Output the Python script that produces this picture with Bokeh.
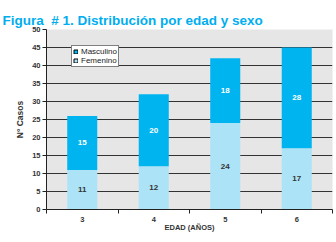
from bokeh.plotting import figure
from bokeh.models import Range1d, FixedTicker, ColumnDataSource, Legend, LegendItem
from bokeh.core.properties import value
from bokeh.embed import file_html
from bokeh.resources import INLINE

edades = ["3", "4", "5", "6"]
femenino = [11, 12, 24, 17]
masculino = [15, 20, 18, 28]
y_ticks = [0, 5, 10, 15, 20, 25, 30, 35, 40, 45, 50]

COL_M = "#00b4f0"
COL_F = "#ade3f7"

xs = [i + 0.5 for i in range(len(edades))]
tops = [f + m for f, m in zip(femenino, masculino)]
src = ColumnDataSource(dict(
    x=xs, fem=femenino, masc=masculino, top=tops,
    fem_mid=[f / 2 for f in femenino],
    masc_mid=[f + m / 2 for f, m in zip(femenino, masculino)],
    fem_txt=[str(v) for v in femenino],
    masc_txt=[str(v) for v in masculino],
))

FONT = "Liberation Sans"
p = figure(width=336, height=242, output_backend="svg", toolbar_location=None,
           x_range=Range1d(0, len(edades)), y_range=Range1d(0, 50),
           min_border_left=46, min_border_right=4, min_border_top=29, min_border_bottom=33)

p.title.text = "Figura\u00a0 # 1. Distribución por edad y sexo"
p.title.text_font = FONT
p.title.text_font_size = "13.5px"
p.title.text_font_style = "bold"
p.title.text_color = "#00aeef"
p.title.offset = -44
p.title.standoff = 0
p.title.vertical_align = "top"

p.background_fill_color = "#e6e6e6"
p.border_fill_color = "white"
p.outline_line_color = None

p.vbar(x="x", bottom=0, top="fem", width=0.42, source=src,
       fill_color=COL_F, line_color=None)
p.vbar(x="x", bottom="fem", top="top", width=0.42, source=src,
       fill_color=COL_M, line_color=None)

# legend swatches: hidden renderers, used only for the outlined legend glyphs
lg_m = p.vbar(x=xs[:1], top=femenino[:1], width=0.42, fill_color=COL_M,
              line_color="black", line_width=1, visible=False)
lg_f = p.vbar(x=xs[:1], top=femenino[:1], width=0.42, fill_color=COL_F,
              line_color="black", line_width=1, visible=False)

p.text(x="x", y="masc_mid", text="masc_txt", source=src, text_color="white",
       text_font=value(FONT), text_font_size="8px", text_font_style="bold",
       text_align="center", text_baseline="middle")
p.text(x="x", y="fem_mid", text="fem_txt", source=src, text_color="#333333",
       text_font=value(FONT), text_font_size="8px", text_font_style="bold",
       text_align="center", text_baseline="middle")

# grid
p.xgrid.grid_line_color = None
p.ygrid.ticker = FixedTicker(ticks=y_ticks)
p.ygrid.grid_line_color = "#333333"
p.ygrid.grid_line_width = 1

# y axis
p.yaxis.ticker = FixedTicker(ticks=y_ticks)
p.yaxis.axis_label = "N° Casos"
p.yaxis.axis_label_text_font = FONT
p.yaxis.axis_label_text_font_size = "8.5px"
p.yaxis.axis_label_text_font_style = "bold"
p.yaxis.axis_label_text_color = "#333333"
p.yaxis.axis_label_standoff = 4
p.yaxis.major_label_text_font = FONT
p.yaxis.major_label_text_font_size = "7.5px"
p.yaxis.major_label_text_font_style = "bold"
p.yaxis.major_label_text_color = "#333333"
p.yaxis.major_tick_out = 4
p.yaxis.major_tick_in = 0
p.yaxis.minor_tick_line_color = None
p.yaxis.axis_line_color = "#222222"
p.yaxis.major_tick_line_color = "#222222"
p.yaxis.major_label_standoff = 2

# x axis
p.xaxis.ticker = FixedTicker(ticks=xs, minor_ticks=list(range(len(edades) + 1)))
p.xaxis.major_label_overrides = {x: e for x, e in zip(xs, edades)}
p.xaxis.major_tick_line_color = None
p.xaxis.minor_tick_out = 4
p.xaxis.minor_tick_in = 0
p.xaxis.minor_tick_line_color = "#222222"
p.xaxis.axis_line_color = "#222222"
p.xaxis.axis_label = "EDAD (AÑOS)"
p.xaxis.axis_label_text_font = FONT
p.xaxis.axis_label_text_font_size = "7.5px"
p.xaxis.axis_label_text_font_style = "bold"
p.xaxis.axis_label_text_color = "#333333"
p.xaxis.axis_label_standoff = -2
p.xaxis.major_label_text_font = FONT
p.xaxis.major_label_text_font_size = "7.5px"
p.xaxis.major_label_text_font_style = "bold"
p.xaxis.major_label_text_color = "#333333"
p.xaxis.major_label_standoff = 1

legend = Legend(items=[LegendItem(label="Masculino", renderers=[lg_m]),
                       LegendItem(label="Femenino", renderers=[lg_f])])
legend.margin = 0
legend.padding = 1
legend.spacing = 0
legend.glyph_width = 5
legend.glyph_height = 5
legend.label_height = 6
legend.label_standoff = 3
legend.label_text_font = FONT
legend.label_text_font_size = "8px"
legend.label_text_line_height = 1.0
legend.label_text_color = "#222222"
legend.border_line_color = "black"
legend.border_line_width = 1
legend.background_fill_color = "white"
legend.background_fill_alpha = 1
legend.inactive_fill_alpha = 0
legend.location = (25, 142)
p.add_layout(legend, "center")

open("out.html", "w").write(file_html(p, INLINE))
